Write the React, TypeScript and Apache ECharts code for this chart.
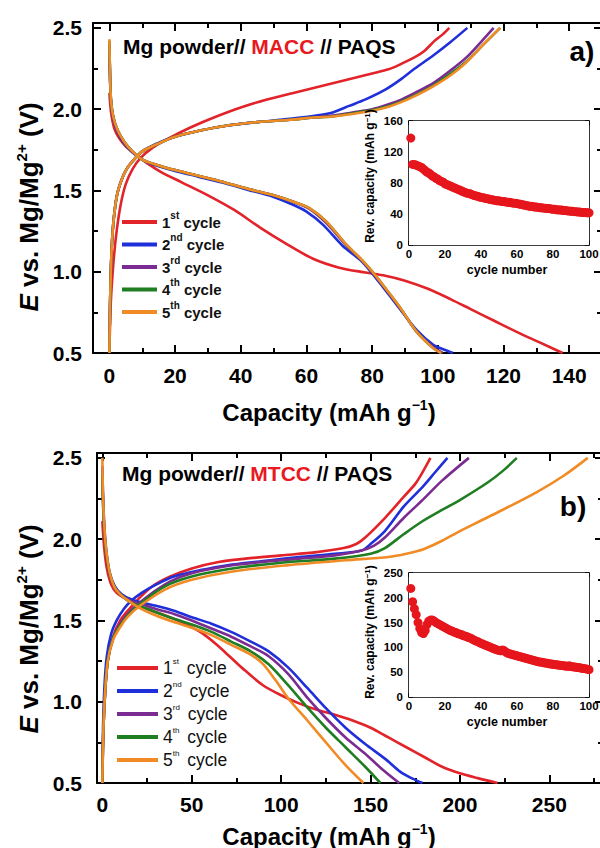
import { useEffect, useRef } from 'react';
import * as echarts from 'echarts';

const FONT = "'Liberation Sans', Arial, Helvetica, sans-serif";

// ---------- tick values ----------
const yMajor = [0.5, 1.0, 1.5, 2.0, 2.5];
const yMinor = [0.75, 1.25, 1.75, 2.25];
const xMajorA = [0, 20, 40, 60, 80, 100, 120, 140];
const xMinorA = [10, 30, 50, 70, 90, 110, 130, 150];
const xMajorB = [0, 50, 100, 150, 200, 250];
const xMinorB = [25, 75, 125, 175, 225, 275];

// ---------- legend ----------
const cycleNumbers = ['1', '2', '3', '4', '5'];
const cycleSuffixes = ['st', 'nd', 'rd', 'th', 'th'];
const cycleColors = ['#e3232a', '#1f2fd9', '#7b2c92', '#1f7d22', '#f08b25'];

// ---------- panel a (MACC): [capacity, voltage] ----------
const aDis1 = [[0,2.1],[0.5,1.98],[1.5,1.88],[3,1.82],[5,1.77],[8,1.72],[12,1.66],[16,1.61],[22,1.55],[30,1.47],[38,1.38],[46,1.27],[54,1.17],[62,1.08],[70,1.025],[78,0.995],[84,0.975],[90,0.945],[97,0.895],[104,0.83],[110,0.77],[117,0.7],[124,0.63],[131,0.565],[138,0.5]];
const aCh1 = [[0,0.5],[0.4,0.8],[1.2,1.05],[2.2,1.25],[3.5,1.42],[5,1.54],[7,1.63],[9.5,1.7],[13,1.76],[18,1.82],[25,1.89],[32,1.95],[40,2.01],[48,2.06],[56,2.1],[64,2.14],[72,2.18],[80,2.22],[85,2.245],[89,2.28],[93,2.32],[96,2.36],[99,2.42],[101.5,2.46],[103.5,2.5]];
const aDis2 = [[0,2.4],[0.2,2.18],[0.5,2.04],[1.2,1.94],[2.5,1.86],[4.5,1.79],[7,1.735],[10,1.69],[14,1.655],[20,1.62],[27,1.585],[34,1.55],[42,1.505],[50,1.46],[55,1.42],[60,1.37],[65,1.29],[71,1.16],[76.5,1.07],[80,0.99],[83.5,0.9],[88.5,0.77],[93.6,0.64],[98.6,0.55],[102,0.52],[104.6,0.5]];
const aCh2 = [[0,0.5],[0.2,0.8],[0.6,1.1],[1.2,1.3],[2.3,1.47],[3.8,1.57],[5.5,1.64],[7.5,1.69],[10,1.74],[14,1.785],[20,1.83],[28,1.87],[36,1.9],[45,1.92],[55,1.94],[63,1.96],[68,1.98],[73,2.02],[78,2.06],[84,2.12],[88.5,2.18],[93,2.25],[98.6,2.33],[103.7,2.41],[109,2.5]];
const aDis3 = [[0,2.4],[0.2,2.19],[0.5,2.05],[1.2,1.95],[2.5,1.87],[4.5,1.8],[7,1.74],[10,1.69],[14,1.66],[20,1.625],[27,1.59],[34,1.555],[42,1.51],[50,1.47],[56,1.43],[61,1.385],[66,1.3],[72,1.165],[77,1.065],[80.5,0.985],[84,0.895],[88.5,0.775],[93.6,0.63],[98.6,0.535],[101.5,0.5]];
const aCh3 = [[0,0.5],[0.2,0.8],[0.6,1.1],[1.2,1.3],[2.3,1.47],[3.8,1.57],[5.5,1.64],[7.5,1.69],[10,1.74],[14,1.78],[20,1.83],[28,1.87],[36,1.9],[45,1.92],[55,1.935],[63,1.95],[68,1.96],[74,1.98],[80,2.0],[85,2.03],[88.5,2.055],[93,2.1],[98.6,2.16],[104,2.24],[108.8,2.32],[113,2.41],[117,2.5]];
const aDis4 = [[0,2.42],[0.2,2.2],[0.5,2.05],[1.2,1.95],[2.5,1.87],[4.5,1.8],[7,1.74],[10,1.69],[14,1.66],[20,1.625],[27,1.59],[34,1.555],[42,1.51],[50,1.47],[56,1.43],[61,1.39],[66,1.31],[72,1.17],[77,1.07],[80.5,0.99],[84,0.9],[88.5,0.78],[93.6,0.63],[98.6,0.53],[101,0.5]];
const aCh4 = [[0,0.5],[0.2,0.8],[0.6,1.1],[1.2,1.3],[2.3,1.47],[3.8,1.57],[5.5,1.64],[7.5,1.69],[10,1.74],[14,1.78],[20,1.83],[28,1.87],[36,1.9],[45,1.92],[55,1.935],[63,1.95],[68,1.955],[74,1.975],[80,1.995],[85,2.02],[88.5,2.045],[93,2.085],[98.6,2.145],[104,2.22],[108.8,2.295],[114,2.4],[119,2.5]];
const aDis5 = [[0,2.43],[0.2,2.2],[0.5,2.05],[1.2,1.95],[2.5,1.87],[4.5,1.8],[7,1.74],[10,1.69],[14,1.66],[20,1.625],[27,1.59],[34,1.555],[42,1.51],[50,1.47],[56,1.43],[61,1.39],[66,1.31],[72,1.17],[77,1.07],[80.5,0.99],[84,0.9],[88.5,0.78],[93.6,0.63],[98.6,0.53],[101,0.5]];
const aCh5 = [[0,0.5],[0.2,0.8],[0.6,1.1],[1.2,1.3],[2.3,1.47],[3.8,1.57],[5.5,1.64],[7.5,1.69],[10,1.74],[14,1.78],[20,1.83],[28,1.87],[36,1.9],[45,1.92],[55,1.935],[63,1.95],[68,1.955],[74,1.97],[80,1.99],[85,2.015],[88.5,2.04],[93,2.08],[98.6,2.14],[104,2.21],[108.8,2.29],[114,2.4],[119,2.5]];

// ---------- panel b (MTCC) ----------
const bDis1 = [[0,2.11],[1,1.95],[2.5,1.82],[5,1.72],[8,1.67],[12,1.64],[18,1.6],[25,1.57],[33,1.54],[40,1.51],[48,1.47],[56,1.42],[64,1.35],[72,1.27],[80,1.19],[90,1.1],[100,1.04],[110,0.99],[120,0.95],[130,0.92],[140,0.885],[150,0.84],[160,0.78],[170,0.72],[180,0.66],[190,0.6],[200,0.56],[210,0.53],[221,0.5]];
const bCh1 = [[0,0.5],[0.5,0.8],[1.5,1.05],[3,1.25],[6,1.4],[10,1.5],[15,1.57],[20,1.63],[28,1.71],[38,1.77],[50,1.82],[65,1.86],[80,1.88],[100,1.9],[120,1.92],[135,1.945],[142,1.97],[147,2.01],[158,2.13],[168.5,2.26],[175,2.34],[179.5,2.42],[183.5,2.5]];
const bDis2 = [[0,2.45],[0.3,2.3],[1,2.1],[2,1.95],[4,1.8],[7,1.71],[11,1.66],[16,1.63],[22,1.61],[30,1.59],[40,1.56],[50,1.52],[61,1.48],[72,1.43],[83,1.37],[93,1.31],[104,1.21],[115,1.08],[125,0.96],[136,0.84],[147,0.74],[158,0.65],[166.5,0.57],[172,0.535],[179,0.5]];
const bCh2 = [[0,0.5],[0.4,0.85],[1.2,1.1],[2.5,1.28],[5,1.42],[8,1.5],[12,1.57],[16,1.62],[22,1.67],[30,1.72],[40,1.77],[55,1.81],[70,1.84],[90,1.865],[110,1.89],[130,1.91],[145,1.93],[150,1.97],[158,2.05],[168.5,2.2],[179,2.32],[186,2.41],[193,2.5]];
const bDis3 = [[0,2.4],[0.3,2.25],[1,2.07],[2,1.93],[4,1.79],[7,1.7],[11,1.65],[16,1.62],[22,1.6],[30,1.57],[40,1.54],[50,1.5],[61,1.45],[72,1.4],[83,1.34],[93,1.28],[104,1.17],[115,1.02],[125,0.9],[136,0.78],[147,0.68],[157,0.58],[166,0.5]];
const bCh3 = [[0,0.5],[0.5,0.8],[1.5,1.05],[3,1.25],[6,1.39],[10,1.48],[15,1.55],[21,1.61],[28,1.67],[38,1.74],[50,1.79],[70,1.835],[90,1.86],[110,1.88],[130,1.9],[145,1.93],[152,1.96],[158,2.01],[168.5,2.13],[179,2.24],[190,2.36],[205,2.5]];
const bDis4 = [[0,2.4],[0.3,2.25],[1,2.07],[2,1.93],[4,1.79],[7,1.7],[11,1.65],[16,1.61],[22,1.585],[30,1.55],[40,1.51],[50,1.475],[61,1.43],[72,1.37],[83,1.31],[93,1.23],[104,1.1],[115,0.96],[125,0.84],[136,0.72],[147,0.6],[155.5,0.5]];
const bCh4 = [[0,0.5],[0.5,0.8],[1.5,1.05],[3,1.25],[6,1.39],[10,1.47],[15,1.54],[22,1.61],[35,1.71],[50,1.77],[70,1.815],[100,1.855],[130,1.88],[150,1.91],[158,1.945],[168.5,2.03],[179,2.11],[190,2.18],[200.6,2.245],[215.7,2.35],[224,2.42],[231.8,2.5]];
const bDis5 = [[0,2.5],[0.3,2.3],[1,2.1],[2,1.95],[4,1.8],[7,1.7],[11,1.65],[16,1.61],[22,1.57],[30,1.53],[40,1.49],[50,1.455],[61,1.41],[72,1.35],[83,1.29],[90,1.23],[97,1.13],[104,1.02],[115,0.88],[125,0.75],[136,0.61],[146,0.5]];
const bCh5 = [[0,0.5],[0.5,0.8],[1.5,1.05],[3,1.25],[6,1.38],[10,1.46],[14,1.52],[21,1.59],[35,1.69],[50,1.75],[72,1.8],[104,1.84],[136,1.87],[160,1.89],[170,1.91],[180,1.94],[190,1.99],[200,2.05],[211,2.11],[222,2.17],[243,2.29],[258,2.39],[271.5,2.5]];

// ---------- insets: reversible capacity per cycle (cycle 1..100) ----------
const insetCapA = [138,104,104,103,102,101,100,98,96,94,93,91,89,88,86,85,83,82,81,79,78,77,76,75,74,73,72,71,70,69,68,67,66.5,66,65,64,63.5,63,62,61.5,61,60.5,60,59.5,59,58.5,58,57.5,57,57,56.5,56,56,55.5,55,55,54.5,54,54,53.5,53,52.5,52,51.5,51,50.5,50,50,49.5,49,49,48.5,48,48,47.5,47.5,47,47,46.5,46,46,45.5,45.5,45,45,44.5,44.5,44,44,43.5,43.5,43,43,42.5,42.5,42,42,42,41.5,41.5];
const insetCapB = [219,192,178,166,150,138,130,128,134,146,153,155,155,153,150,148,146,144,142,140,138,136,134,133,131,130,128,127,126,124,123,122,120,119,117,115,113,112,110,108,107,105,104,102,101,99,98,96,95,94,93,95,93,90,88,87,86,85,84,83,82,81,80,79,78,77,76,75,74,73,72,71,70.5,70,69,68.5,68,67,66.5,66,65.5,65,64.5,64,63.5,63,62.5,62,63,61.5,61,60.5,60,59.5,59,58,57.5,57,56,55];

const panelA = [[aDis1, aCh1], [aDis2, aCh2], [aDis3, aCh3], [aDis4, aCh4], [aDis5, aCh5]];
const panelB = [[bDis1, bCh1], [bDis2, bCh2], [bDis3, bCh3], [bDis4, bCh4], [bDis5, bCh5]];

function buildOption() {
  const black = '#000';
  const xAxis: any[] = [];
  const yAxis: any[] = [];
  const ls = (w: number) => ({ color: black, width: w });
  const base = (extra: any) => ({ type: 'value', splitLine: { show: false }, minorSplitLine: { show: false }, ...extra });

  function mainAxes(kind: 'x' | 'y', grid: number, min: number, max: number, majors: number[], minors: number[], label: any) {
    const arr = kind === 'x' ? xAxis : yAxis;
    const pos = kind === 'x' ? ['bottom', 'top'] : ['left', 'right'];
    const idx = arr.length;
    pos.forEach((p, k) => {
      arr.push(base({
        gridIndex: grid, min, max, position: p,
        axisLine: { show: true, onZero: false, lineStyle: ls(2) },
        axisTick: { show: true, inside: true, length: 8, customValues: majors, lineStyle: ls(2) },
        axisLabel: k === 0 ? { show: true, customValues: majors, ...label } : { show: false },
      }));
      arr.push(base({
        gridIndex: grid, min, max, position: p,
        axisLine: { show: false, onZero: false },
        axisTick: { show: true, inside: true, length: 5, customValues: minors, lineStyle: ls(2) },
        axisLabel: { show: false },
      }));
    });
    return idx;
  }

  function insetAxes(kind: 'x' | 'y', grid: number, min: number, max: number, interval: number, label: any) {
    const arr = kind === 'x' ? xAxis : yAxis;
    const pos = kind === 'x' ? ['bottom', 'top'] : ['left', 'right'];
    const idx = arr.length;
    pos.forEach((p, k) => {
      arr.push(base({
        gridIndex: grid, min, max, interval, position: p,
        axisLine: { show: true, onZero: false, lineStyle: ls(1.6) },
        axisTick: { show: true, inside: true, length: 4, lineStyle: ls(1.5) },
        minorTick: { show: true, splitNumber: 2, length: 2.5, lineStyle: ls(1.2) },
        axisLabel: k === 0 ? { show: true, ...label } : { show: false },
      }));
    });
    return idx;
  }

  const mainLabel = { color: black, fontFamily: FONT, fontSize: 21, fontWeight: 'bold' };
  const insetLabel = { color: black, fontFamily: FONT, fontSize: 11.5, fontWeight: 'bold' };

  const xA = mainAxes('x', 0, -5, 150, xMajorA, xMinorA, { ...mainLabel, margin: 12, formatter: (v: number) => String(v) });
  const yA = mainAxes('y', 0, 0.5, 2.53, yMajor, yMinor, { ...mainLabel, margin: 11, formatter: (v: number) => v.toFixed(1) });
  const xB = mainAxes('x', 1, -3, 280, xMajorB, xMinorB, { ...mainLabel, margin: 11, formatter: (v: number) => String(v) });
  const yB = mainAxes('y', 1, 0.5, 2.53, yMajor, yMinor, { ...mainLabel, margin: 15, formatter: (v: number) => v.toFixed(1) });
  const xIA = insetAxes('x', 2, 0, 100, 20, { ...insetLabel, margin: 3 });
  const yIA = insetAxes('y', 2, 0, 160, 40, { ...insetLabel, margin: 6 });
  const xIB = insetAxes('x', 3, 0, 100, 20, { ...insetLabel, margin: 3 });
  const yIB = insetAxes('y', 3, 0, 250, 50, { ...insetLabel, margin: 6 });

  const series: any[] = [];
  const addPanel = (panel: number[][][], prefix: string, xi: number, yi: number) => {
    panel.forEach((pair, i) => {
      pair.forEach((d) => {
        series.push({
          type: 'line', name: prefix + (i + 1), xAxisIndex: xi, yAxisIndex: yi,
          data: d, showSymbol: false, symbol: 'none', smooth: 0.3,
          color: cycleColors[i],
          lineStyle: { width: 2.6, color: cycleColors[i] },
          itemStyle: { color: cycleColors[i] },
          z: 3 + i,
        });
      });
    });
  };
  addPanel(panelA, 'a', xA, yA);
  addPanel(panelB, 'b', xB, yB);

  const insetSeries = (vals: number[], xi: number, yi: number) => ({
    type: 'scatter', xAxisIndex: xi, yAxisIndex: yi,
    data: vals.map((v, i) => [i + 1, v]),
    symbolSize: 9, itemStyle: { color: '#e5161c', opacity: 1 }, z: 5,
  });
  series.push(insetSeries(insetCapA, xIA, yIA));
  series.push(insetSeries(insetCapB, xIB, yIB));

  const legendRich = (size: number, weight: string, supSize: number, lh: number, supLh: number, gapPad: number) => ({
    n: { fontFamily: FONT, fontSize: size, fontWeight: weight, color: '#111', lineHeight: lh },
    s: { fontFamily: FONT, fontSize: supSize, fontWeight: weight, color: '#111', lineHeight: supLh, verticalAlign: 'top' },
    c: { fontFamily: FONT, fontSize: size, fontWeight: weight, color: '#111', lineHeight: lh, padding: [0, 0, 0, gapPad] },
  });
  const legendFmt = (name: string) => {
    const i = Number(name.slice(1)) - 1;
    return `{n|${cycleNumbers[i]}}{s|${cycleSuffixes[i]}}{c| cycle}`;
  };

  const legend = [
    {
      data: ['a1', 'a2', 'a3', 'a4', 'a5'], orient: 'vertical', left: 122, top: 210, padding: 0,
      itemWidth: 35, itemHeight: 4, itemGap: 3, icon: 'rect', selectedMode: false,
      formatter: legendFmt, textStyle: { rich: legendRich(15, 'bold', 10, 24, 8, 0) },
      itemStyle: { borderWidth: 0 },
    },
    {
      data: ['b1', 'b2', 'b3', 'b4', 'b5'], orient: 'vertical', left: 117, top: 657, padding: 0,
      itemWidth: 41, itemHeight: 4, itemGap: 3, icon: 'rect', selectedMode: false,
      formatter: legendFmt, textStyle: { rich: legendRich(17.5, 'normal', 8, 22, 6, 3) },
      itemStyle: { borderWidth: 0 },
    },
  ];

  const t = (x: number, y: number, text: string, rich: any, align = 'center', rotation = 0) => ({
    type: 'text', x, y, rotation, z: 100,
    style: { text, rich, align, verticalAlign: 'middle', textAlign: align, textVerticalAlign: 'middle', fill: '#000' },
  });
  const bold = (size: number, color = '#000', lh?: number) => ({ fontFamily: FONT, fontSize: size, fontWeight: 'bold', fill: color, color, lineHeight: lh });
  const italicBold = (size: number, lh: number) => ({ fontFamily: FONT, fontSize: size, fontWeight: 'bold', fontStyle: 'italic', fill: '#000', color: '#000', lineHeight: lh });
  const sup = (size: number, lh: number) => ({ fontFamily: FONT, fontSize: size, fontWeight: 'bold', fill: '#000', color: '#000', lineHeight: lh, verticalAlign: 'top' });

  const titleRich = { k: bold(21), r: bold(21, '#e8191f') };
  const yTitleRich = { i: italicBold(26, 30), n: bold(26, '#000', 30), s: sup(15, 12) };
  const xTitleRich = { n: bold(24, '#000', 28), s: sup(14, 12) };
  const insetYRich = { n: bold(12, '#000', 14), s: sup(8, 6) };
  const plainRich = (size: number) => ({ n: bold(size) });

  const graphic = [
    t(123, 46, '{k|Mg powder// }{r|MACC}{k| // PAQS}', titleRich, 'left'),
    t(122, 473, '{k|Mg powder// }{r|MTCC}{k| // PAQS}', titleRich, 'left'),
    t(582, 51, '{n|a)}', plainRich(28)),
    t(573, 506, '{n|b)}', plainRich(28)),
    t(29, 207, '{i|E}{n| vs. Mg/Mg}{s|2+}{n| (V)}', yTitleRich, 'center', Math.PI / 2),
    t(29, 629, '{i|E}{n| vs. Mg/Mg}{s|2+}{n| (V)}', yTitleRich, 'center', Math.PI / 2),
    t(329, 412, '{n|Capacity (mAh g}{s|−1}{n|)}', xTitleRich),
    t(329, 836, '{n|Capacity (mAh g}{s|−1}{n|)}', xTitleRich),
    t(370, 176, '{n|Rev. capacity (mAh g}{s|−1}{n|)}', insetYRich, 'center', Math.PI / 2),
    t(370, 632, '{n|Rev. capacity (mAh g}{s|−1}{n|)}', insetYRich, 'center', Math.PI / 2),
    t(507, 270, '{n|cycle number}', plainRich(12.5)),
    t(507, 722, '{n|cycle number}', plainRich(12.5)),
  ];

  const gridCommon = { containLabel: false, outerBoundsMode: 'none' };
  return {
    animation: false,
    backgroundColor: '#fff',
    grid: [
      { ...gridCommon, left: 93, top: 23, width: 509, height: 330 },
      { ...gridCommon, left: 97, top: 453, width: 506, height: 330 },
      { ...gridCommon, left: 409, top: 121, width: 180, height: 124, show: true, backgroundColor: '#fff', borderWidth: 0, z: 4 },
      { ...gridCommon, left: 409, top: 573, width: 180, height: 124, show: true, backgroundColor: '#fff', borderWidth: 0, z: 4 },
    ],
    xAxis, yAxis, series, legend, graphic,
  };
}

export default function App() {
  const ref = useRef<HTMLDivElement>(null);
  useEffect(() => {
    if (!ref.current) return;
    const chart = echarts.init(ref.current, null, { renderer: 'svg' });
    chart.setOption(buildOption() as any);
    return () => chart.dispose();
  }, []);
  return <div ref={ref} style={{ position: 'fixed', left: 0, top: 0, width: 600, height: 848, background: '#fff' }} />;
}
